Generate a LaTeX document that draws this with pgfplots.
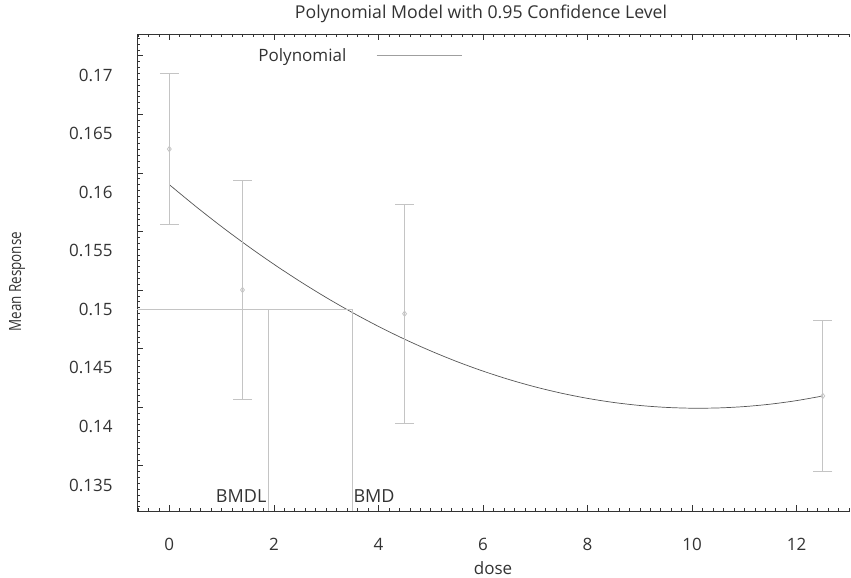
\documentclass[border=0pt]{standalone}
\usepackage{fontspec}
\setmainfont{Open Sans}
\newfontfamily\condfont[FakeStretch=0.8]{Open Sans}
\usepackage{pgfplots}
\pgfplotsset{compat=1.18}

\definecolor{curvegray}{HTML}{555555}
\definecolor{bargray}{HTML}{C4C4C4}
\definecolor{axisgray}{HTML}{333333}

\begin{document}
\begin{tikzpicture}
\path[use as bounding box] (0,0) rectangle (851pt,578pt);
\begin{axis}[
  at={(137pt,67pt)}, anchor=south west,
  scale only axis, width=713pt, height=477pt,
  xmin=-0.618, xmax=13.02,
  ymin=0.13278, ymax=0.1735,
  axis x line=box, axis y line=left,
  axis line style={line width=0.8pt, axisgray, -},
  tick style={axisgray, line width=0.6pt},
  tick align=inside,
  major tick length=6pt, minor tick length=3pt,
  xtick={0,2,...,12},
  minor xtick={-0.6,-0.4,...,13.01},
  ytick={0.13665,0.14165,0.14665,0.15165,0.15665,0.16165,0.16665,0.17165},
  yticklabels={0.135,0.14,0.145,0.15,0.155,0.16,0.165,0.17},
  minor ytick={0.13315,0.13365,...,0.1735},
  /pgf/number format/assume math mode=true,
  tick label style={font=\fontsize{17}{20}\selectfont, text=axisgray},
  xticklabel style={yshift=-24pt},
  yticklabel style={xshift=-21pt, yshift=-19.3pt},
  title={Polynomial Model with 0.95 Confidence Level},
  title style={font=\fontsize{17.7}{20}\selectfont, text=axisgray, at={(axis description cs:0.4825,1.0294)}, anchor=center},
  xlabel={dose},
  xlabel style={font=\fontsize{17}{20}\selectfont, text=axisgray, at={(axis description cs:0.4993,-0.1195)}, anchor=center},
  ylabel={Mean Response},
  ylabel style={font=\condfont\fontsize{16.8}{20}\selectfont, text=axisgray, at={(axis description cs:-0.168,0.4807)}, anchor=center},
  legend plot pos=right,
  legend style={draw=none, fill=none, at={(rel axis cs:0.163,0.9545)}, anchor=west,
    font=\fontsize{17}{20}\selectfont, text=axisgray,
    /tikz/every odd column/.append style={column sep=28pt}},
  legend image code/.code={\draw[#1, draw=gray!75] (0pt,0pt) -- (85pt,0pt);},
]
% fitted polynomial curve
\addplot[curvegray, line width=0.7pt, smooth] coordinates {
  (0,0.16064) (0.5,0.158802) (1,0.157056) (1.5,0.155404) (2,0.153845)
  (2.5,0.152379) (3,0.151006) (3.5,0.149726) (4,0.148539) (4.5,0.147445)
  (5,0.146445) (5.5,0.145537) (6,0.144722) (6.5,0.144001) (7,0.143372)
  (7.5,0.142837) (8,0.142394) (8.5,0.142045) (9,0.141788) (9.5,0.141625)
  (10,0.141555) (10.5,0.141578) (11,0.141694) (11.5,0.141903) (12,0.142205)
  (12.5,0.1426)
};
\addlegendentry{Polynomial}
% observed means with 95% intervals
\addplot[only marks, mark=diamond, mark size=2.6pt, bargray,
  mark options={fill=white, line width=0.8pt},
  error bars/.cd, y dir=both, y explicit,
  error bar style={bargray, line width=0.9pt},
  error mark options={bargray, line width=0.9pt, mark size=9.5pt, rotate=90}]
  coordinates {
  (0,0.16368) +- (0,0.00647)
  (1.4,0.15165) +- (0,0.00933)
  (4.5,0.14962) +- (0,0.00936)
  (12.5,0.1426) +- (0,0.00646)
};
% BMD / BMDL guide lines
\addplot[bargray, line width=0.9pt] coordinates {(-0.618,0.15) (3.5,0.15)};
\addplot[bargray, line width=0.9pt] coordinates {(1.89,0.15) (1.89,0.13278)};
\addplot[bargray, line width=0.9pt] coordinates {(3.5,0.15) (3.5,0.13278)};
\node[anchor=base east, inner sep=0pt, text=axisgray, font=\fontsize{18}{20}\selectfont] at (axis cs:1.86,0.13352) {BMDL};
\node[anchor=base west, inner sep=0pt, text=axisgray, font=\fontsize{18}{20}\selectfont] at (axis cs:3.52,0.13352) {BMD};
\end{axis}
\end{tikzpicture}
\end{document}
